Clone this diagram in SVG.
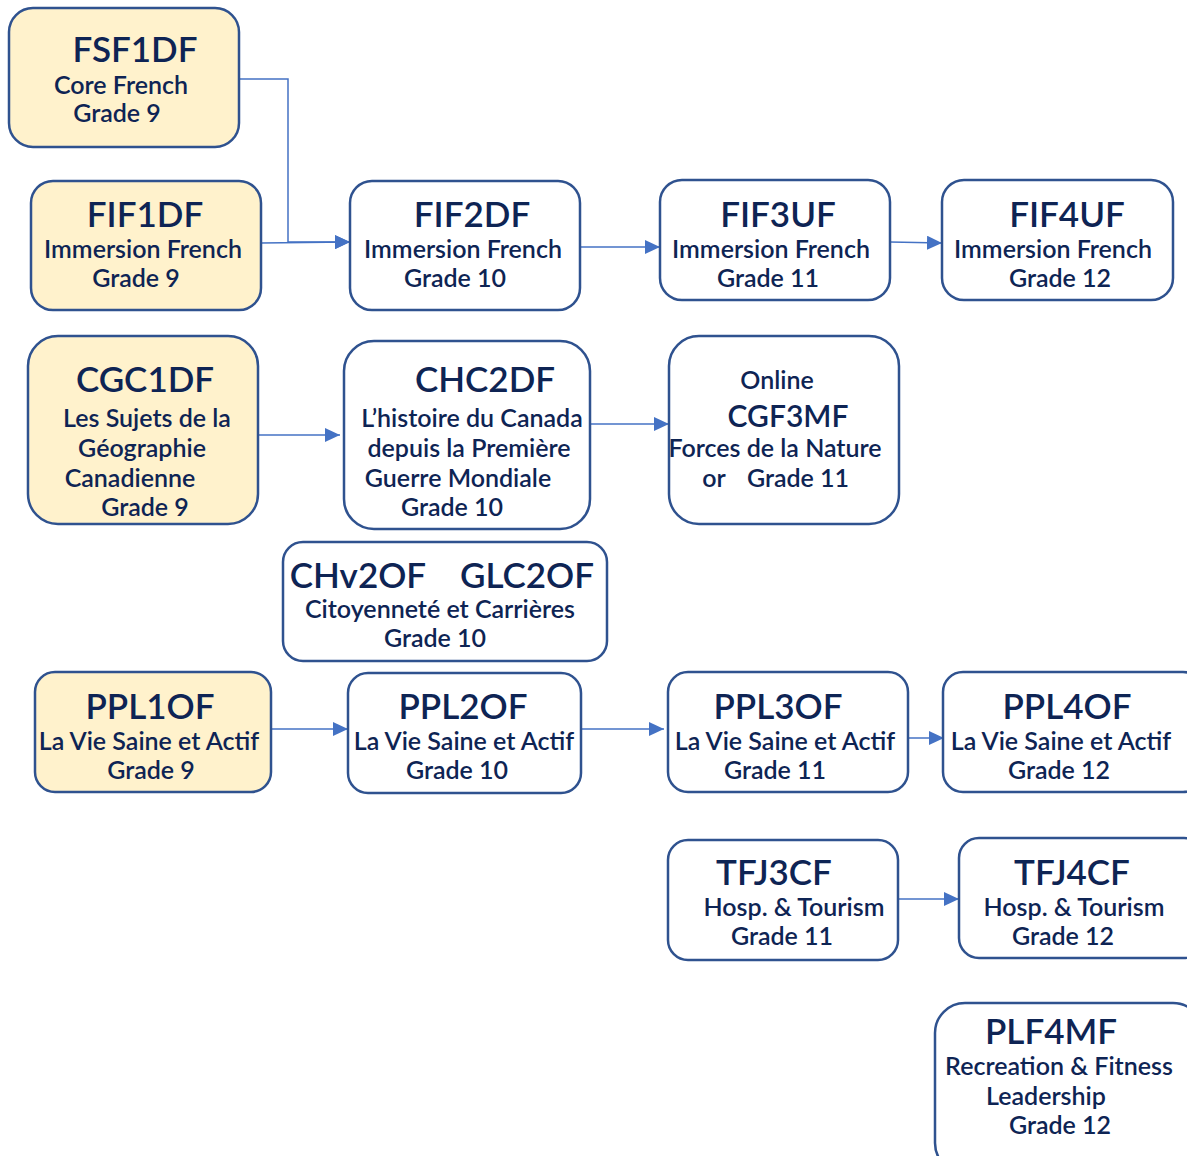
<svg xmlns="http://www.w3.org/2000/svg" width="1187" height="1156" viewBox="0 0 1187 1156">
<defs>
<marker id="arr" markerUnits="userSpaceOnUse" markerWidth="16" markerHeight="14" refX="15" refY="7" orient="auto">
<path d="M0,0 L15,7 L0,14 Z" fill="#4472c4"/>
</marker>
<style>
.box{fill:#fff;stroke:#2f528f;stroke-width:2.5}
.y{fill:#fff2cc}
text{font-family:Lato,"Open Sans","Liberation Sans",sans-serif;fill:#0e2454;text-anchor:middle;font-weight:600}
.t{font-size:35px}
.m{font-size:30px}
.s{font-size:25px}
.c{fill:none;stroke:#4472c4;stroke-width:1.5}
</style>
</defs>
<rect width="1187" height="1156" fill="#fff"/>
<g id="connectors">
<path class="c" d="M239,79 H288 V242 H350" marker-end="url(#arr)"/>
<path class="c" d="M261,243 L350,242" marker-end="url(#arr)"/>
<path class="c" d="M580,247 H660" marker-end="url(#arr)"/>
<path class="c" d="M890,242 L942,243" marker-end="url(#arr)"/>
<path class="c" d="M258,435 H340" marker-end="url(#arr)"/>
<path class="c" d="M590,424 H669" marker-end="url(#arr)"/>
<path class="c" d="M271,729 H348" marker-end="url(#arr)"/>
<path class="c" d="M581,729 H664" marker-end="url(#arr)"/>
<path class="c" d="M908,738 H944" marker-end="url(#arr)"/>
<path class="c" d="M898,899 H959" marker-end="url(#arr)"/>
</g>
<g id="FSF1DF"><rect class="box y" x="9" y="8" width="230" height="139" rx="24"/>
<text class="t" x="135" y="62">FSF1DF</text><text class="s" x="121" y="94">Core French</text><text class="s" x="117" y="122">Grade 9</text></g>
<g id="FIF1DF"><rect class="box y" x="31" y="181" width="230" height="129" rx="22"/>
<text class="t" x="145" y="227">FIF1DF</text><text class="s" x="143" y="258">Immersion French</text><text class="s" x="136" y="287">Grade 9</text></g>
<g id="FIF2DF"><rect class="box" x="350" y="181" width="230" height="129" rx="22"/>
<text class="t" x="472" y="227">FIF2DF</text><text class="s" x="463" y="258">Immersion French</text><text class="s" x="455" y="287">Grade 10</text></g>
<g id="FIF3UF"><rect class="box" x="660" y="180" width="230" height="120" rx="22"/>
<text class="t" x="778" y="227">FIF3UF</text><text class="s" x="771" y="258">Immersion French</text><text class="s" x="768" y="287">Grade 11</text></g>
<g id="FIF4UF"><rect class="box" x="942" y="180" width="231" height="120" rx="22"/>
<text class="t" x="1067" y="227">FIF4UF</text><text class="s" x="1053" y="258">Immersion French</text><text class="s" x="1060" y="287">Grade 12</text></g>
<g id="CGC1DF"><rect class="box y" x="28" y="336" width="230" height="188" rx="30"/>
<text class="t" x="145" y="392">CGC1DF</text><text class="s" x="147" y="427">Les Sujets de la</text><text class="s" x="142" y="457">Géographie</text><text class="s" x="130" y="487">Canadienne</text><text class="s" x="145" y="516">Grade 9</text></g>
<g id="CHC2DF"><rect class="box" x="344" y="341" width="246" height="188" rx="30"/>
<text class="t" x="485" y="392">CHC2DF</text><text class="s" x="472" y="427">L’histoire du Canada</text><text class="s" x="469" y="457">depuis la Première</text><text class="s" x="458" y="487">Guerre Mondiale</text><text class="s" x="452" y="516">Grade 10</text></g>
<g id="CGF3MF"><rect class="box" x="669" y="336" width="230" height="188" rx="30"/>
<text class="s" x="777" y="389">Online</text><text class="m" x="788" y="427">CGF3MF</text><text class="s" x="775" y="457">Forces de la Nature</text><text class="s" x="714" y="487">or</text><text class="s" x="798" y="487">Grade 11</text></g>
<g id="CHV2OF"><rect class="box" x="283" y="542" width="324" height="119" rx="20"/>
<text class="t" x="358" y="588">CHv2OF</text><text class="t" x="527" y="588">GLC2OF</text><text class="s" x="440" y="618">Citoyenneté et Carrières</text><text class="s" x="435" y="647">Grade 10</text></g>
<g id="PPL1OF"><rect class="box y" x="35" y="672" width="236" height="120" rx="20"/>
<text class="t" x="150" y="719">PPL1OF</text><text class="s" x="149" y="750">La Vie Saine et Actif</text><text class="s" x="151" y="779">Grade 9</text></g>
<g id="PPL2OF"><rect class="box" x="348" y="673" width="233" height="120" rx="20"/>
<text class="t" x="463" y="719">PPL2OF</text><text class="s" x="464" y="750">La Vie Saine et Actif</text><text class="s" x="457" y="779">Grade 10</text></g>
<g id="PPL3OF"><rect class="box" x="668" y="672" width="240" height="120" rx="20"/>
<text class="t" x="778" y="719">PPL3OF</text><text class="s" x="785" y="750">La Vie Saine et Actif</text><text class="s" x="775" y="779">Grade 11</text></g>
<g id="PPL4OF"><rect class="box" x="943" y="672" width="260" height="120" rx="20"/>
<text class="t" x="1067" y="719">PPL4OF</text><text class="s" x="1061" y="750">La Vie Saine et Actif</text><text class="s" x="1059" y="779">Grade 12</text></g>
<g id="TFJ3CF"><rect class="box" x="668" y="840" width="230" height="120" rx="20"/>
<text class="t" x="774" y="885">TFJ3CF</text><text class="s" x="794" y="916">Hosp. &amp; Tourism</text><text class="s" x="782" y="945">Grade 11</text></g>
<g id="TFJ4CF"><rect class="box" x="959" y="838" width="245" height="120" rx="20"/>
<text class="t" x="1072" y="885">TFJ4CF</text><text class="s" x="1074" y="916">Hosp. &amp; Tourism</text><text class="s" x="1063" y="945">Grade 12</text></g>
<g id="PLF4MF"><rect class="box" x="935" y="1003" width="268" height="170" rx="30"/>
<text class="t" x="1051" y="1044">PLF4MF</text><text class="s" x="1059" y="1075">Recreation &amp; Fitness</text><text class="s" x="1046" y="1105">Leadership</text><text class="s" x="1060" y="1134">Grade 12</text></g>
</svg>
